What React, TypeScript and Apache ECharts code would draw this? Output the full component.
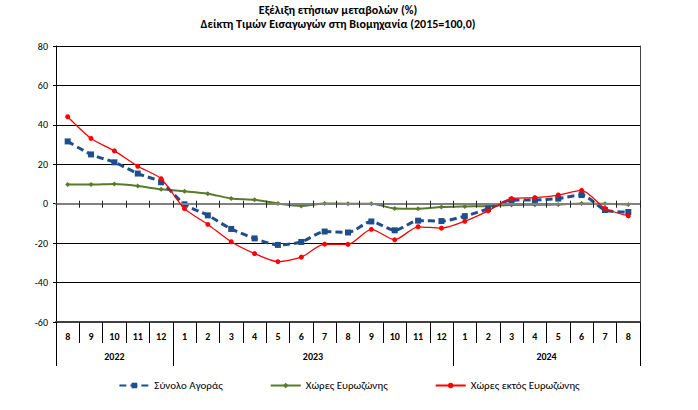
import React, { useEffect, useRef } from "react";
import * as echarts from "echarts";

const titleLines = ["Εξέλιξη ετήσιων μεταβολών (%)", "Δείκτη Τιμών Εισαγωγών στη Βιομηχανία (2015=100,0)"];
const months = ["8", "9", "10", "11", "12", "1", "2", "3", "4", "5", "6", "7", "8", "9", "10", "11", "12", "1", "2", "3", "4", "5", "6", "7", "8"];
const years = ["2022", "2023", "2024"];
const monthsPerYear = [5, 12, 8];
const seriesNames = ["Σύνολο Αγοράς", "Χώρες Ευρωζώνης", "Χώρες εκτός Ευρωζώνης"];
const totalMarket = [31.6, 25.0, 21.0, 15.3, 10.9, -0.3, -5.9, -12.8, -17.6, -20.9, -19.4, -14.1, -14.6, -9.0, -13.5, -8.6, -8.8, -6.3, -2.6, 1.8, 1.9, 2.6, 4.4, -3.2, -4.2];
const euroZone = [9.7, 9.7, 10.0, 9.0, 7.3, 6.3, 5.1, 2.7, 2.0, 0.1, -1.1, 0.1, 0.0, 0.0, -2.4, -2.5, -1.7, -1.4, -1.2, -0.6, -0.5, -0.4, 0.1, 0.0, -0.4];
const nonEuroZone = [44.1, 33.1, 26.8, 19.0, 12.7, -2.5, -10.5, -19.3, -25.3, -29.4, -27.1, -20.5, -20.6, -13.0, -18.3, -11.7, -12.4, -8.9, -3.6, 2.6, 3.1, 4.4, 6.8, -2.4, -6.2];
const yMin = -60;
const yMax = 80;
const yStep = 20;

const FONT = 'Carlito, "Liberation Sans", Arial, sans-serif';

export default function App() {
  const ref = useRef<HTMLDivElement>(null);
  useEffect(() => {
    if (!ref.current) return;
    const chart = echarts.init(ref.current, null, { renderer: "svg" });

    const boundaries: number[] = [0];
    const centers: number[] = [];
    let acc = 0;
    monthsPerYear.forEach((n) => {
      centers.push(acc + n / 2);
      acc += n;
      boundaries.push(acc);
    });

    const zeroAxisBase = {
      type: "category" as const,
      data: months,
      position: "bottom" as const,
      boundaryGap: true,
      axisLabel: { show: false },
      splitLine: { show: false },
      z: 5,
    };

    chart.setOption({
      animation: false,
      backgroundColor: "#fff",
      textStyle: { fontFamily: FONT },
      graphic: [
        {
          type: "text",
          x: 338,
          y: 3,
          style: {
            text: titleLines.join("\n"),
            align: "center",
            verticalAlign: "top",
            fontSize: 12,
            fontWeight: "bold",
            lineHeight: 14,
            fill: "#000",
            fontFamily: FONT,
          },
        },
      ],
      legend: {
        bottom: 14,
        left: "center",
        itemWidth: 30,
        itemHeight: 7,
        itemGap: 47,
        textStyle: { fontSize: 11, color: "#000", fontFamily: FONT },
        data: seriesNames,
      },
      grid: { left: 56, right: 58, top: 46, bottom: 88 },
      xAxis: [
        {
          type: "category",
          data: months,
          position: "bottom",
          boundaryGap: true,
          axisLine: { onZero: false, lineStyle: { color: "#404040", width: 2 } },
          axisTick: { show: true, interval: 0, length: 21, lineStyle: { color: "#000", width: 1 } },
          axisLabel: { interval: 0, margin: 9, fontSize: 10, fontWeight: "bold", color: "#000", fontFamily: FONT },
          splitLine: { show: false },
        },
        {
          type: "value",
          min: 0,
          max: acc,
          position: "bottom",
          axisLine: { show: false, onZero: false },
          axisTick: { show: true, customValues: boundaries, length: 44, lineStyle: { color: "#000", width: 1 } },
          axisLabel: {
            show: true,
            customValues: centers,
            margin: 29,
            fontSize: 10,
            fontWeight: "bold",
            color: "#000",
            fontFamily: FONT,
            formatter: (v: number) => {
              const i = centers.findIndex((c) => Math.abs(c - v) < 1e-6);
              return i >= 0 ? years[i] : "";
            },
          },
          splitLine: { show: false },
        },
        {
          ...zeroAxisBase,
          axisLine: { show: true, onZero: true, onZeroAxisIndex: 0, lineStyle: { color: "#808080", width: 2 } },
          axisTick: { show: true, interval: 0, inside: true, length: 3, lineStyle: { color: "#222", width: 1 } },
        },
        {
          ...zeroAxisBase,
          axisLine: { show: false, onZero: true, onZeroAxisIndex: 1 },
          axisTick: { show: true, interval: 0, inside: false, length: 4, lineStyle: { color: "#222", width: 1 } },
        },
      ],
      yAxis: [
        {
          type: "value",
          min: yMin,
          max: yMax,
          interval: yStep,
          position: "left",
          axisLine: { show: true, lineStyle: { color: "#000", width: 1 } },
          axisTick: { show: true, length: 3, lineStyle: { color: "#000" } },
          axisLabel: { fontSize: 10, color: "#000", margin: 8, fontFamily: FONT },
          splitLine: { show: true, lineStyle: { color: "#000", width: 1 } },
        },
        {
          type: "value",
          min: yMin,
          max: yMax,
          interval: yStep,
          position: "right",
          axisLine: { show: true, lineStyle: { color: "#404040", width: 1 } },
          axisTick: { show: false },
          axisLabel: { show: false },
          splitLine: { show: false },
        },
      ],
      series: [
        {
          name: seriesNames[0],
          type: "line",
          data: totalMarket,
          xAxisIndex: 0,
          yAxisIndex: 0,
          smooth: 0.25,
          symbol: "rect",
          symbolSize: 6,
          z: 4,
          lineStyle: { color: "#1F4E8C", width: 3, type: [7, 4] },
          itemStyle: { color: "#1F4E8C" },
        },
        {
          name: seriesNames[1],
          type: "line",
          data: euroZone,
          xAxisIndex: 0,
          yAxisIndex: 0,
          smooth: 0.25,
          symbol: "diamond",
          symbolSize: 5,
          z: 3,
          lineStyle: { color: "#5A7A2B", width: 2 },
          itemStyle: { color: "#5A7A2B" },
        },
        {
          name: seriesNames[2],
          type: "line",
          data: nonEuroZone,
          xAxisIndex: 0,
          yAxisIndex: 0,
          smooth: 0.25,
          symbol: "circle",
          symbolSize: 5,
          z: 5,
          lineStyle: { color: "#FF0000", width: 1.3 },
          itemStyle: { color: "#FF0000" },
        },
      ],
    });
    return () => chart.dispose();
  }, []);
  return (
    <div
      ref={ref}
      style={{ position: "fixed", left: 0, top: 0, width: 698, height: 410, background: "#fff" }}
    />
  );
}
